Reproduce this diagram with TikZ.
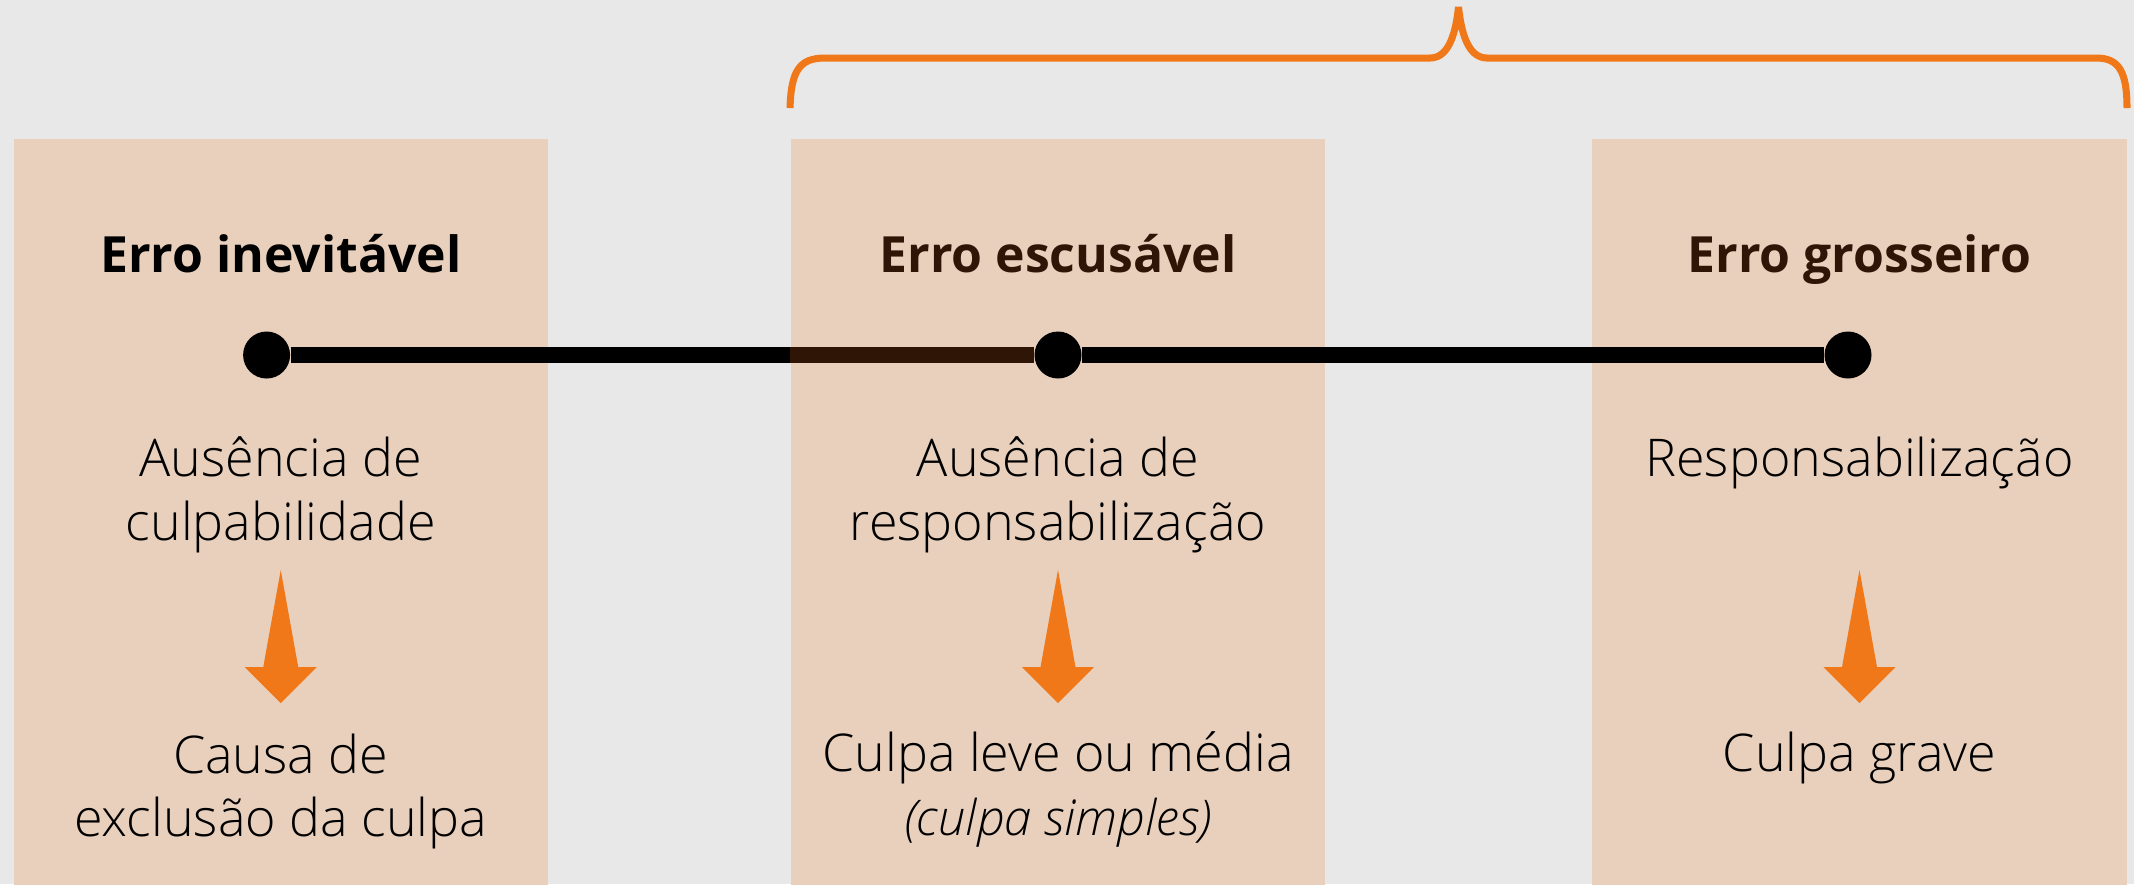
\documentclass[tikz,border=0pt]{standalone}
\usepackage{fontspec}
\IfFontExistsTF{Open Sans Light}{\setmainfont{Open Sans Light}[BoldFont={Open Sans Bold}]}{\setmainfont{Open Sans}}
\usetikzlibrary{calc}
\definecolor{bg}{HTML}{E8E8E8}
\definecolor{boxfill}{HTML}{E9D0BD}
\definecolor{orangeline}{HTML}{F07818}
\definecolor{darkbrown}{HTML}{2E1506}
\begin{document}
\begin{tikzpicture}[x=0.1mm, y=-0.1mm, line join=round,
  font=\fontsize{14.8}{18}\selectfont,
  colbox/.style={fill=boxfill, inner sep=0, minimum width=53.45mm, minimum height=74.6mm, anchor=north},
  coltitle/.style={anchor=base, inner sep=0, font=\fontsize{14.2}{18}\selectfont\bfseries},
  txt/.style={anchor=base, align=center, inner sep=0},
  dot/.style={circle, fill=black, inner sep=0, minimum size=4.7mm},
  fatarrow/.style={fill=orangeline}]
\fill[bg] (0,0) rectangle (2134,884);
\useasboundingbox (0,0) rectangle (2134,884);
% columns
\node[colbox] (b1) at (280.75,138) {};
\node[colbox] (b2) at (1058,138) {};
\node[colbox] (b3) at (1859.5,138) {};
% brace over the last two columns
\draw[orangeline, line width=2pt, line join=bevel] (b2.north west |- 0,108) .. controls (791,70) and (800,58) .. (825,58) -- (1430,58)
  .. controls (1450,58) and (1456,30) .. (1458.5,7) .. controls (1461,30) and (1467,58) .. (1487,58) -- (2096,58)
  .. controls (2118,58) and (2127,70) .. (2127,108);
% titles
\node[coltitle] (t1) at ($(b1.north)+(0,134.7)$) {Erro inevitável};
\node[coltitle, text=darkbrown] (t2) at ($(b2.north)+(0,134.7)$) {Erro escusável};
\node[coltitle, text=darkbrown] (t3) at ($(b3.north)+(0,134.7)$) {Erro grosseiro};
% timeline
\node[dot] (d1) at (266.6,355) {};
\node[dot] (d2) at (1058,355) {};
\node[dot] (d3) at (1848,355) {};
\draw[line width=4.55pt] (d1) -- (d2) -- (d3);
\draw[darkbrown, line width=4.55pt] (b2.west |- d2) -- (d2);
% upper texts (base = last line)
\node[txt] (u1) at ($(b1.north)+(0,402)$) {Ausência de\\culpabilidade};
\node[txt] (u2) at ($(b2.north)+(0,402)$) {Ausência de\\responsabilização};
\node[txt] (u3) at ($(b3.north)+(0,338.7)$) {Responsabilização};
% lower texts
\node[txt] (l1) at ($(b1.north)+(0,698.7)$) {Causa de\\exclusão da culpa};
\node[txt] (l2) at ($(b2.north)+(0,697)$) {Culpa leve ou média\\{\fontsize{14}{18}\selectfont\itshape (culpa simples)}};
\node[txt] (l3) at ($(b3.north)+(0,633.7)$) {Culpa grave};
% arrows
\foreach \b in {1,2,3}
  \fill[fatarrow] ($(b\b.north)+(0,432)$) -- ++(17.5,97) -- ++(18.5,0) -- ++(-36,36) -- ++(-36,-36) -- ++(18.5,0) -- cycle;
\end{tikzpicture}
\end{document}
